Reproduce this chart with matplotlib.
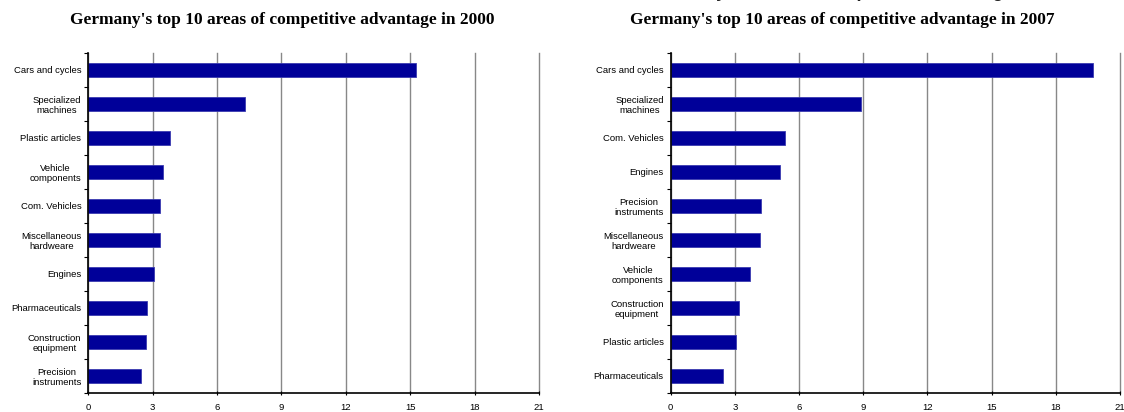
import matplotlib
matplotlib.use("Agg")
import matplotlib.pyplot as plt
import numpy as np

# ---- data ----
cats_2000 = ["Cars and cycles", "Specialized\nmachines", "Plastic articles",
             "Vehicle\ncomponents", "Com. Vehicles", "Miscellaneous\nhardweare",
             "Engines", "Pharmaceuticals", "Construction\nequipment",
             "Precision\ninstruments"]
vals_2000 = [15.26, 7.31, 3.82, 3.47, 3.36, 3.34, 3.08, 2.72, 2.69, 2.46]

cats_2007 = ["Cars and cycles", "Specialized\nmachines", "Com. Vehicles",
             "Engines", "Precision\ninstruments", "Miscellaneous\nhardweare",
             "Vehicle\ncomponents", "Construction\nequipment", "Plastic articles",
             "Pharmaceuticals"]
vals_2007 = [19.72, 8.88, 5.34, 5.09, 4.24, 4.19, 3.72, 3.17, 3.06, 2.43]

x_ticks = [0, 3, 6, 9, 12, 15, 18, 21]
title_2000 = "Germany's top 10 areas of competitive advantage in 2000"
title_2007 = "Germany's top 10 areas of competitive advantage in 2007"
top_text = "Germany's areas of competitive advantage, 2000-2007"

W, H = 1124, 412
fig = plt.figure(figsize=(W / 100, H / 100), dpi=100)

label_font = dict(family="Liberation Sans", size=6.8)
bar_color = "#000099"
edge_color = "#3a3ab0"


def draw(ax, cats, vals):
    n = len(cats)
    pos = np.arange(n)
    ax.barh(pos, vals, height=0.4, color=bar_color, edgecolor=edge_color,
            linewidth=0.6, zorder=3)
    ax.set_xlim(0, 21)
    ax.set_ylim(n - 0.5, -0.5)
    ax.set_xticks(x_ticks)
    ax.set_xticklabels([str(t) for t in x_ticks], **label_font)
    ax.set_yticks(np.arange(-0.5, n, 1.0))
    ax.set_yticklabels([])
    ax.set_yticks(pos, minor=True)
    ax.set_yticklabels(cats, minor=True, ha="right", **label_font)
    for lab in ax.get_yticklabels(minor=True):
        lab.set_multialignment("center")
    ax.tick_params(axis="y", which="minor", length=0, pad=5)
    ax.tick_params(axis="y", which="major", length=3, width=0.8, direction="out")
    ax.tick_params(axis="x", which="major", length=3, width=0.8,
                   direction="inout", pad=6)
    ax.grid(axis="x", color="#888888", linewidth=1.0, zorder=0)
    for gl in ax.get_xgridlines():
        gl.set_clip_on(False)
    ax.set_axisbelow(True)
    for s in ["top", "right"]:
        ax.spines[s].set_visible(False)
    for s in ["left", "bottom"]:
        ax.spines[s].set_linewidth(1.2)
        ax.spines[s].set_color("black")
        ax.spines[s].set_zorder(4)


def frac_x(px):
    return px / W


def frac_y(py):
    return 1 - py / H


ax1 = fig.add_axes([frac_x(88.3), frac_y(392.7), (539 - 88.3) / W, (392.7 - 53) / H])
draw(ax1, cats_2000, vals_2000)
ax2 = fig.add_axes([frac_x(670.7), frac_y(392.7), (1120 - 670.7) / W, (392.7 - 53) / H])
draw(ax2, cats_2007, vals_2007)

title_font = dict(family="Liberation Serif", fontweight="bold", size=12.5)
fig.text(frac_x(282), frac_y(20), title_2000, ha="center", va="center", **title_font)
fig.text(frac_x(842), frac_y(20), title_2007, ha="center", va="center", **title_font)

fig.text(frac_x(648), frac_y(-3), top_text, ha="left", va="baseline",
         family="Liberation Sans", fontweight="bold", size=13, color="#222222")

fig.savefig("out.png", dpi=100)
